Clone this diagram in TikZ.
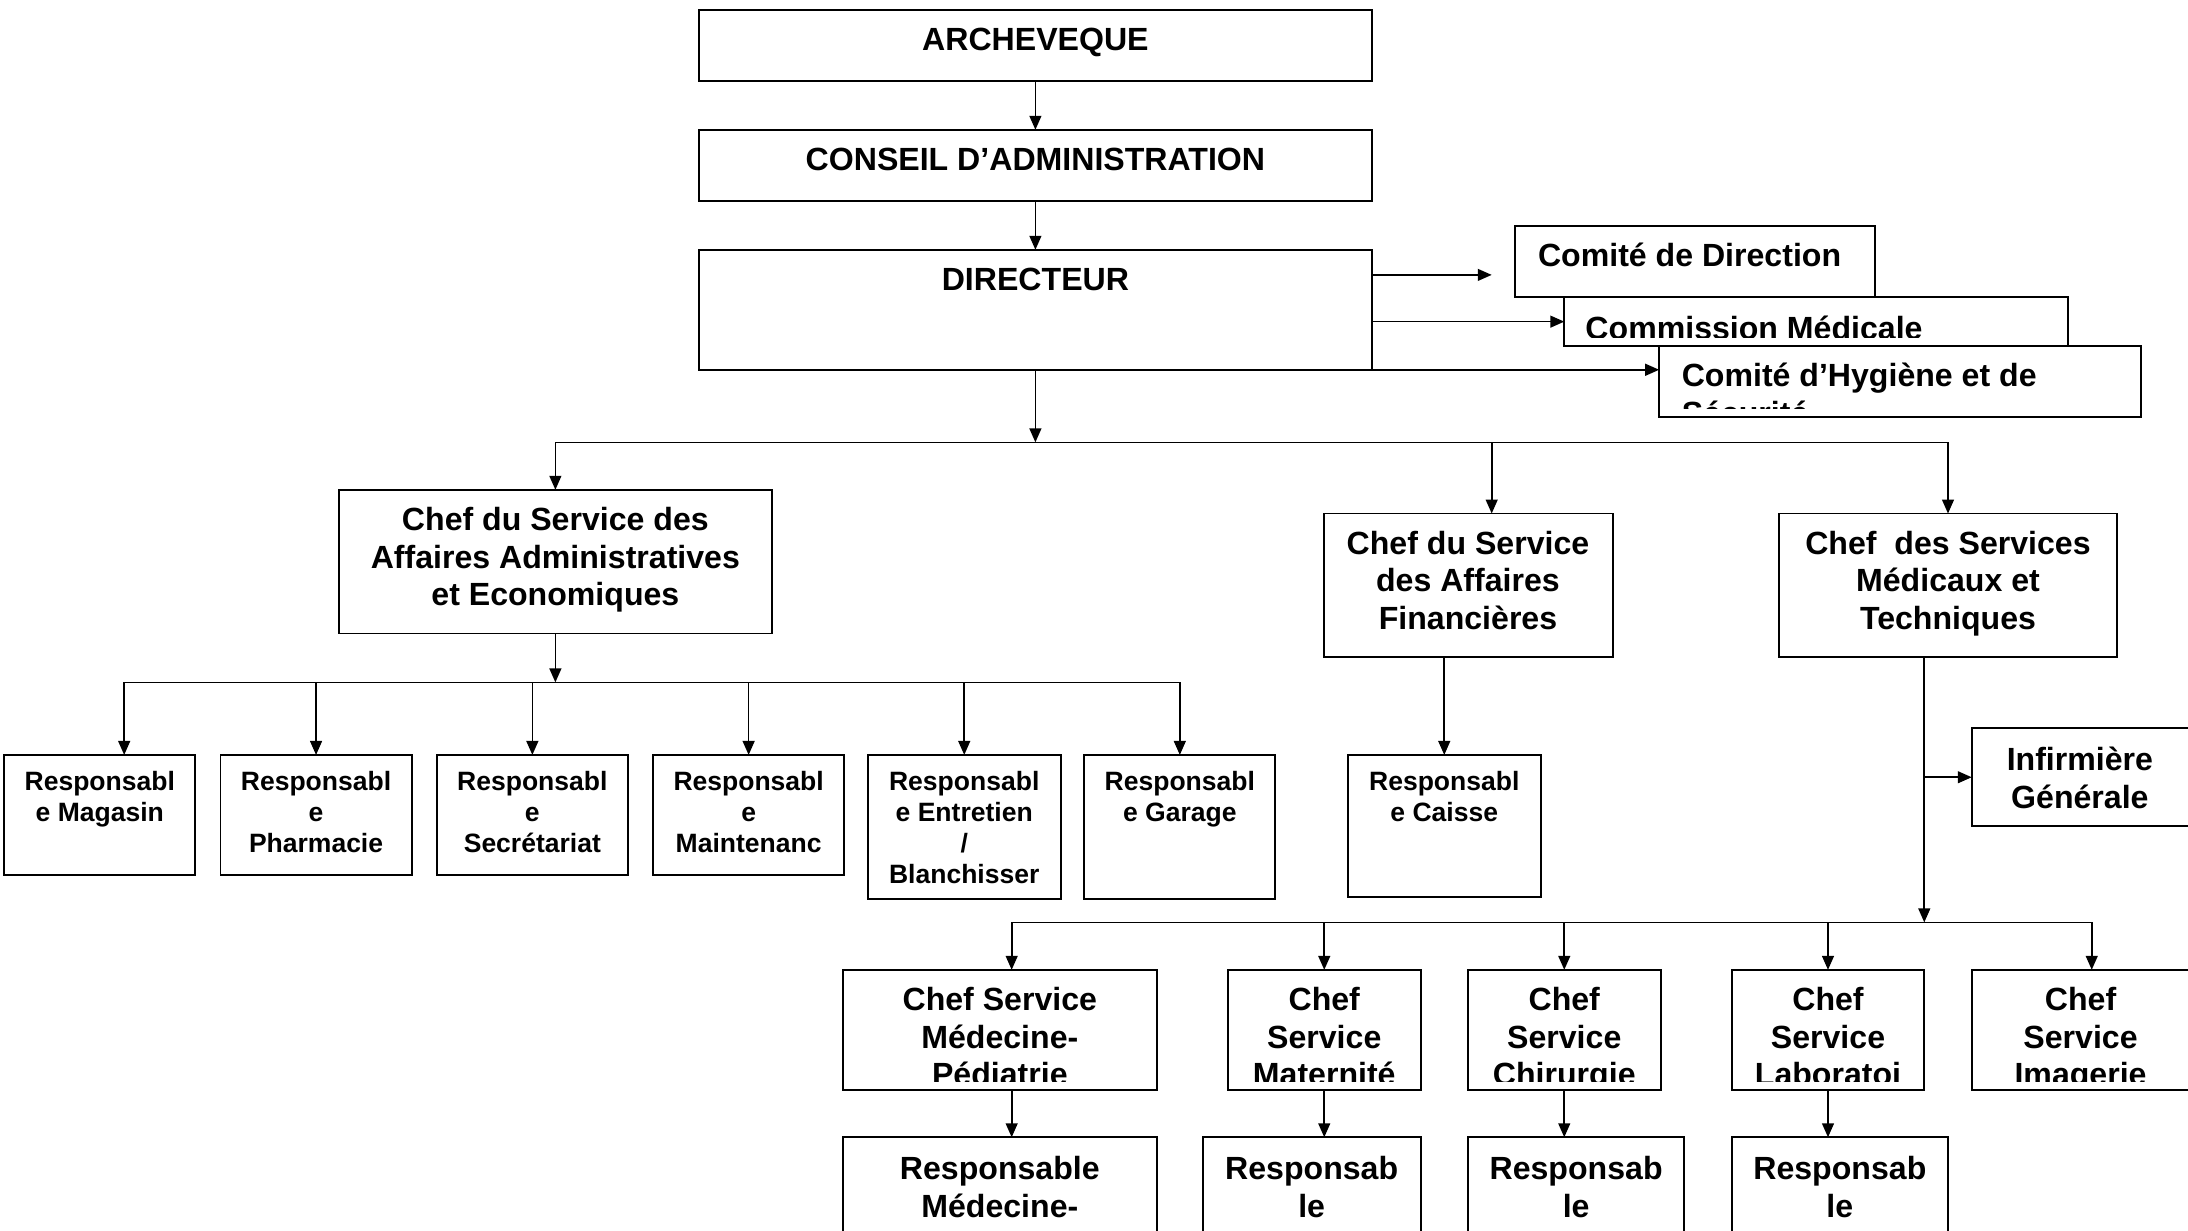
\documentclass[tikz,border=0pt]{standalone}
\usepackage{fontspec}
\setmainfont{Liberation Sans}
\usetikzlibrary{arrows.meta}
\newcommand\Bst{\rule{0pt}{21pt}}
\newcommand\Sst{\rule{0pt}{17pt}}
\tikzset{
  boxst/.style={draw, line width=1.4pt, fill=white, inner sep=0, outer sep=0, rectangle},
  bigtxt/.style={font=\bfseries\fontsize{23}{27}\selectfont, align=center, anchor=north, inner sep=0},
  bigleft/.style={font=\bfseries\fontsize{23}{27}\selectfont, align=left, anchor=north west, inner sep=0},
  smltxt/.style={font=\bfseries\fontsize{19}{22.3}\selectfont, align=center, anchor=north, inner sep=0},
  conn/.style={line width=1.2pt, -{Triangle[length=10pt,width=8.5pt]}},
  busline/.style={line width=1.2pt},
}
% #1 name, #2 x1, #3 y1, #4 x2, #5 y2, #6 text options, #7 text
\newcommand\orgbox[7]{%
  \node[boxst, anchor=north west, minimum width={#4-#2}, minimum height={#5-#3}] (#1) at (#2,#3) {};
  \begin{scope}
    \clip ([yshift=6pt]#1.south west) rectangle (#1.north east);
    \node[#6] (#1-t) {#7};
  \end{scope}}
\begin{document}
\begin{tikzpicture}[x=1pt,y=-1pt]
\useasboundingbox (0,0) rectangle (1568,882);
\clip (0,0) rectangle (1568,882);
\fill[white] (0,0) rectangle (1568,882);

% top chain
\orgbox{arch}{501}{7}{983}{58}{bigtxt, at={(742,15)}}{\Bst ARCHEVEQUE}
\orgbox{cons}{501}{93}{983}{144}{bigtxt, at={(742,101)}}{\Bst CONSEIL D’ADMINISTRATION}
\orgbox{dir}{501}{179}{983}{265}{bigtxt, at={(742,187)}}{\Bst DIRECTEUR}

% committees
\orgbox{cdir}{1086}{162}{1344}{213}{bigleft, at={(1102,170)}}{\Bst Comité de Direction}
\orgbox{cmed}{1121}{213}{1482}{248}{bigleft, at={(1136,222)}}{\Bst Commission Médicale}
\orgbox{chyg}{1189}{248}{1534}{299}{bigleft, at={(1205,256)}}{\Bst Comité d’Hygiène et de\\Sécurité}

% second level
\orgbox{cadm}{243}{351}{553}{454}{bigtxt, at={(398,359)}}{\Bst Chef du Service des\\Affaires Administratives\\et Economiques}
\orgbox{cfin}{949}{368}{1156}{471}{bigtxt, at={(1052,376)}}{\Bst Chef du Service\\des Affaires\\Financières}
\orgbox{cmt}{1275}{368}{1517}{471}{bigtxt, at={(1396,376)}}{\Bst Chef\ \ des Services\\Médicaux et\\Techniques}

% admin row
\orgbox{mag}{3}{541}{140}{627}{smltxt, at={(71.5,549)}}{\Sst Responsabl\\e Magasin}
\orgbox{pha}{158}{541}{295}{627}{smltxt, at={(226.5,549)}}{\Sst Responsabl\\e\\Pharmacie}
\orgbox{sec}{313}{541}{450}{627}{smltxt, at={(381.5,549)}}{\Sst Responsabl\\e\\Secrétariat}
\orgbox{mai}{468}{541}{605}{627}{smltxt, at={(536.5,549)}}{\Sst Responsabl\\e\\Maintenanc}
\orgbox{ent}{622}{541}{760}{644}{smltxt, at={(691,549)}}{\Sst Responsabl\\e Entretien\\/\\Blanchisser}
\orgbox{gar}{777}{541}{914}{644}{smltxt, at={(845.5,549)}}{\Sst Responsabl\\e Garage}
\orgbox{cai}{966}{541}{1104}{643}{smltxt, at={(1035,549)}}{\Sst Responsabl\\e Caisse}

% medical side
\orgbox{inf}{1413}{522}{1580}{592}{bigtxt, at={(1490.5,531)}}{\Bst Infirmière\\Générale}
\orgbox{cmp}{604}{695}{829}{781}{bigtxt, at={(716.5,703)}}{\Bst Chef Service\\Médecine-\\Pédiatrie}
\orgbox{cmat}{880}{695}{1018}{781}{bigtxt, at={(949,703)}}{\Bst Chef\\Service\\Maternité}
\orgbox{cchi}{1052}{695}{1190}{781}{bigtxt, at={(1121,703)}}{\Bst Chef\\Service\\Chirurgie}
\orgbox{clab}{1241}{695}{1379}{781}{bigtxt, at={(1310,703)}}{\Bst Chef\\Service\\Laboratoi}
\orgbox{cimg}{1413}{695}{1580}{781}{bigtxt, at={(1491,703)}}{\Bst Chef\\Service\\Imagerie}

\orgbox{rmp}{604}{815}{829}{905}{bigtxt, at={(716.5,824)}}{\Bst Responsable\\Médecine-}
\orgbox{rmat}{862}{815}{1018}{905}{bigtxt, at={(940,824)}}{\Bst Responsab\\le}
\orgbox{rchi}{1052}{815}{1207}{905}{bigtxt, at={(1129.5,824)}}{\Bst Responsab\\le}
\orgbox{rlab}{1241}{815}{1396}{905}{bigtxt, at={(1318.5,824)}}{\Bst Responsab\\le}

% connectors: top chain
\draw[conn] (arch.south) -- (cons.north);
\draw[conn] (cons.south) -- (dir.north);

% committees
\coordinate (cdtip) at (1069,197);
\draw[conn] (dir.east |- cdtip) -- (cdtip);
\draw[conn] (dir.east |- cmed.west) -- (cmed.west);
\draw[conn] (dir.south east) -- (dir.south east -| chyg.west);

% bus 1
\coordinate (b1) at (742,317);
\coordinate (b1f) at (1069,317);
\draw[conn] (dir.south) -- (b1);
\draw[busline] (cadm.north |- b1) -- (cmt.north |- b1);
\draw[conn] (cadm.north |- b1) -- (cadm.north);
\draw[conn] (b1f) -- (b1f |- cfin.north);
\draw[conn] (cmt.north |- b1) -- (cmt.north);

% bus 2 (admin)
\coordinate (b2) at (399,489);
\coordinate (b2l) at (89,489);
\draw[conn] (cadm.south) -- (cadm.south |- b2);
\draw[busline] (b2l) -- (gar.north |- b2);
\draw[conn] (b2l) -- (b2l |- mag.north);
\foreach \n in {pha,sec,mai,ent,gar} \draw[conn] (\n.north |- b2) -- (\n.north);

% finance
\draw[conn] (cai.north |- cfin.south) -- (cai.north);

% medical
\coordinate (b3) at (1379,661);
\coordinate (b3l) at (725,661);
\coordinate (b3r) at (1499,661);
\draw[conn] (b3 |- cmt.south) -- (b3);
\draw[conn] (b3 |- inf.west) -- (inf.west);
\draw[busline] (b3l) -- (b3r);
\draw[conn] (b3l) -- (b3l |- cmp.north);
\foreach \n in {cmat,cchi,clab} \draw[conn] (\n.north |- b3) -- (\n.north);
\draw[conn] (b3r) -- (b3r |- cimg.north);

\draw[conn] (b3l |- cmp.south) -- (b3l |- rmp.north);
\draw[conn] (cmat.south) -- (cmat.south |- rmat.north);
\draw[conn] (cchi.south) -- (cchi.south |- rchi.north);
\draw[conn] (clab.south) -- (clab.south |- rlab.north);
\end{tikzpicture}
\end{document}
